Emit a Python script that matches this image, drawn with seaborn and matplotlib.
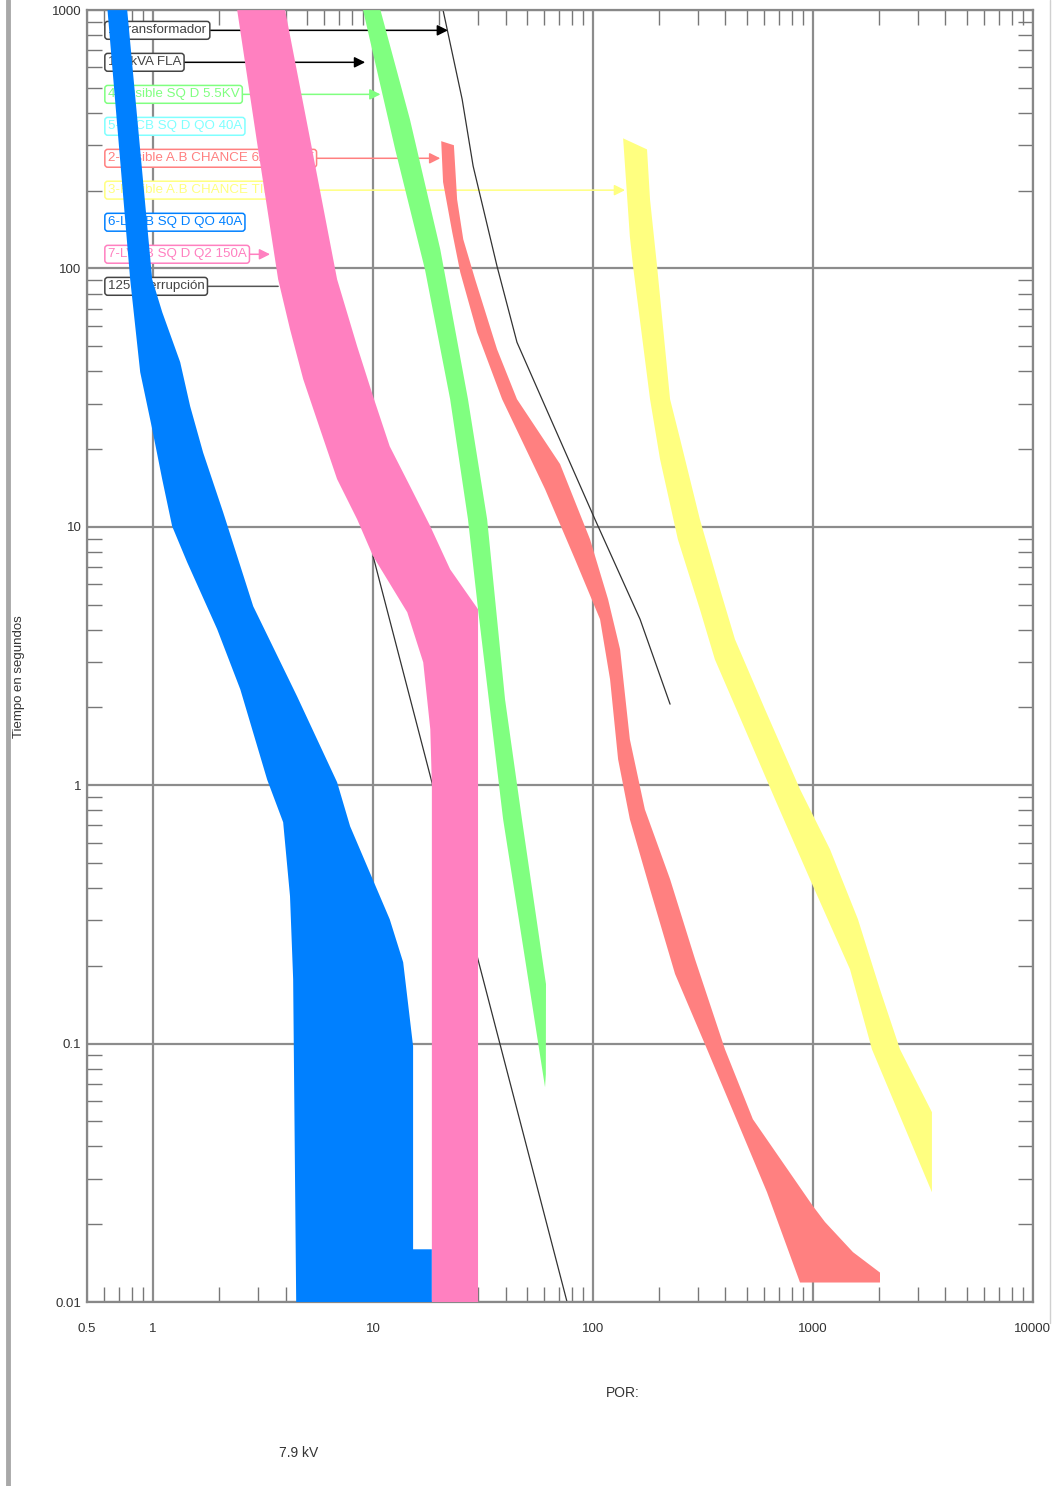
#!/usr/bin/env python3
"""Curvas de coordinacion de protecciones (tiempo-corriente), escala log-log."""

import matplotlib
matplotlib.use('Agg')
import matplotlib.pyplot as plt
from matplotlib.lines import Line2D
from matplotlib.ticker import FixedLocator, LogLocator, NullFormatter
import seaborn as sns
import pandas as pd

# ---- datos (corriente, tiempo en s) ----
X_TICKS = [0.5, 1, 10, 100, 1000, 10000]
X_LABELS = ['0.5', '1', '10', '100', '1000', '10000']
Y_TICKS = [0.01, 0.1, 1, 10, 100, 1000]
Y_LABELS = ['0.01', '0.1', '1', '10', '100', '1000']

# 6-LVCB SQ D QO 40A (azul)
blue_left_i = [0.62, 0.786, 0.873, 0.99, 1.099, 1.22, 1.427, 1.954, 2.49, 3.30, 3.90, 4.19, 4.33, 4.47]
blue_left_t = [1000, 90.8, 39.7, 23.9, 15.3, 10.05, 7.3, 4.02, 2.35, 1.05, 0.719, 0.372, 0.1775, 0.01]
blue_right_i = [18.5, 18.5, 15.2, 15.2, 13.7, 11.9, 7.86, 6.86, 4.51, 2.85, 2.08, 1.687, 1.473, 1.327, 1.10, 0.99, 0.762]
blue_right_t = [0.01, 0.016, 0.016, 0.0977, 0.2065, 0.303, 0.694, 1.027, 2.21, 4.93, 11.4, 19.4, 29.3, 43.4, 67.7, 90.8, 1000]

# 7-LVCB SQ D Q2 150A (rosa)
pink_left_i = [2.41, 3.0, 3.70, 4.19, 4.81, 5.74, 6.86, 8.46, 10.0, 14.3, 16.9, 18.2, 18.5, 18.5]
pink_left_t = [1000, 289, 90.8, 58.2, 37.3, 23.9, 15.3, 10.7, 7.7, 4.67, 2.99, 1.647, 1.0, 0.01]
pink_right_i = [30.0, 30.0, 22.4, 18.2, 14.7, 11.9, 10.0, 8.46, 6.86, 5.28, 3.98]
pink_right_t = [0.01, 4.80, 6.85, 10.05, 14.4, 20.5, 32.0, 50.0, 90.8, 289, 1000]

# 4-Fusible SQ D 5.5KV (verde)
green_left_i = [9.0, 12.6, 17.2, 22.4, 27.0, 30.0, 39.0, 49.1, 60.5]
green_left_t = [1000, 289, 99.3, 31.2, 10.7, 4.80, 0.739, 0.212, 0.0678]
green_right_i = [61.0, 61.1, 47.5, 39.8, 33.0, 27.0, 20.2, 14.7, 10.8]
green_right_t = [0.076, 0.170, 0.739, 2.15, 10.7, 31.2, 118.7, 378, 1000]

# 2-Fusible A.B CHANCE (rojo)
red_left_i = [20.4, 20.8, 22.9, 24.9, 29.7, 38.6, 60.5, 82.8, 107.6, 119.5, 130, 147, 181.6, 236, 330, 618, 873]
red_left_t = [311, 216, 138, 96.7, 56.6, 31.2, 14.0, 7.49, 4.39, 2.57, 1.26, 0.739, 0.396, 0.186, 0.0951, 0.0266, 0.0119]
red_right_i = [2017, 2017, 1520, 1134, 1000, 533, 398, 291, 224, 172, 147, 132.7, 117, 96.9, 70.8, 45.1, 36.6, 29.1, 25.7, 24.1, 23.3]
red_right_t = [0.0119, 0.0130, 0.0156, 0.0204, 0.0235, 0.051, 0.0951, 0.212, 0.433, 0.807, 1.507, 3.36, 5.25, 8.95, 17.5, 31.2, 48.7, 90.8, 129.7, 185, 300]

# 3-Fusible A.B CHANCE (amarillo)
yellow_left_i = [137, 147, 152, 181.6, 201.6, 243, 306, 358, 491, 672, 969, 1473, 1854, 3474]
yellow_left_t = [319, 133, 102, 31.2, 18.3, 8.95, 4.80, 3.07, 1.647, 0.883, 0.433, 0.194, 0.0951, 0.0266]
yellow_right_i = [3474, 2486, 2016, 1601, 1195, 873, 605, 442, 378, 306, 249, 224, 195.5, 181.6, 176]
yellow_right_t = [0.0543, 0.0951, 0.1624, 0.303, 0.565, 0.965, 1.968, 3.67, 5.73, 10.7, 21.8, 31.2, 102, 185, 289]

# curvas negras (dano del transformador / inrush)
dano_i = [20.8, 25.4, 28.5, 36.6, 45.1, 58.6, 102, 163.6, 224]
dano_t = [1000, 452, 249, 102, 51.8, 31.2, 10.7, 4.39, 2.06]
inrush_i = [10.0, 76.2]
inrush_t = [7.7, 0.01]

# etiquetas
labels = ['1-Transformador', '125kVA FLA', '4-Fusible SQ D 5.5KV', '5-LVCB SQ D QO 40A',
          '2-Fusible A.B CHANCE 6A TIPO T', '3-Fusible A.B CHANCE TIPO T',
          '6-LVCB SQ D QO 40A', '7-LVCB SQ D Q2 150A', '125 Interrupción']
label_t = [835, 628, 472, 355, 267, 201, 151, 113.5, 85.3]
label_tip = [21.9, 9.2, 10.8, None, 20.2, 139.8, None, 3.4, 3.7]
label_head = ['-|>', '-|>', '-|>', None, '-|>', '-|>', None, '-|>', '-']

BLUE, PINK, GREEN, RED, YELLOW, CYAN = '#0080ff', '#ff80c0', '#80ff80', '#ff8080', '#ffff80', '#80ffff'
label_color = ['#444444', '#444444', GREEN, CYAN, RED, YELLOW, BLUE, PINK, '#444444']
arrow_color = ['black', 'black', GREEN, CYAN, RED, YELLOW, BLUE, PINK, '#555555']

sns.set_theme(style='white')
plt.rcParams['font.family'] = ['Liberation Sans', 'DejaVu Sans']

fig = plt.figure(figsize=(10.54, 14.86), dpi=100)
ax = fig.add_axes([0.0825, 0.1238, 0.8975, 0.8694])
ax.set_xscale('log')
ax.set_yscale('log')
ax.set_xlim(0.5, 10000)
ax.set_ylim(0.01, 1000)

# bandas
bands = [
    (blue_left_i, blue_left_t, blue_right_i, blue_right_t, BLUE),
    (pink_left_i, pink_left_t, pink_right_i, pink_right_t, PINK),
    (green_left_i, green_left_t, green_right_i, green_right_t, GREEN),
    (red_left_i, red_left_t, red_right_i, red_right_t, RED),
    (yellow_left_i, yellow_left_t, yellow_right_i, yellow_right_t, YELLOW),
]
for li, lt, ri, rt, col in bands:
    ax.fill(li + ri, lt + rt, color=col, lw=0, zorder=3)

# curvas negras
for xi, yt in [(dano_i, dano_t), (inrush_i, inrush_t)]:
    df = pd.DataFrame({'I': xi, 't': yt})
    sns.lineplot(data=df, x='I', y='t', sort=False, estimator=None,
                 color='#333333', lw=0.9, ax=ax, zorder=2.5)

# etiquetas con flechas
for txt, t, tip, head, tcol, acol in zip(labels, label_t, label_tip, label_head,
                                         label_color, arrow_color):
    kw = dict(xy=(0.022, t), xycoords=('axes fraction', 'data'))
    if tip is not None:
        kw = dict(xy=(tip, t), xycoords='data',
                  arrowprops=dict(arrowstyle=head, color=acol, lw=1.1,
                                  mutation_scale=16, shrinkA=0, shrinkB=0))
    ax.annotate(txt, xytext=(0.022, t), textcoords=('axes fraction', 'data'),
                ha='left', va='center', fontsize=9.6, color=tcol, zorder=2,
                bbox=dict(boxstyle='round,pad=0.22', fc='white', ec=tcol, lw=1.1),
                **kw)

# rejilla y marcas
ax.grid(True, which='major', color='#8c8c8c', lw=1.6, zorder=1)
ax.xaxis.set_major_locator(FixedLocator(X_TICKS))
ax.set_xticklabels(X_LABELS)
ax.yaxis.set_major_locator(FixedLocator(Y_TICKS))
ax.set_yticklabels(Y_LABELS)
ax.xaxis.set_minor_locator(LogLocator(base=10, subs=range(2, 10)))
ax.yaxis.set_minor_locator(LogLocator(base=10, subs=range(2, 10)))
ax.xaxis.set_minor_formatter(NullFormatter())
ax.yaxis.set_minor_formatter(NullFormatter())
ax.tick_params(which='minor', direction='in', length=10.5, width=1.0, color='#777777',
               top=True, right=True, bottom=True, left=True)
ax.tick_params(which='major', direction='in', length=0, labelsize=9.5, labelcolor='#333333')
ax.tick_params(axis='x', which='major', pad=15)
ax.tick_params(axis='y', which='major', pad=4)
for s in ax.spines.values():
    s.set_color('#888888')
    s.set_linewidth(1.6)
    s.set_visible(True)
ax.set_xlabel('')
ax.set_ylabel('')

fig.text(0.018, 0.545, 'Tiempo en segundos', rotation=90, ha='center', va='center',
         fontsize=9.5, color='#333333')
fig.text(0.591, 0.0626, 'POR:', ha='center', va='center', fontsize=10, color='#333333')
fig.text(0.283, 0.0222, '7.9 kV', ha='center', va='center', fontsize=10, color='#333333')

# bordes de la pagina
fig.add_artist(Line2D([0.0075, 0.0075], [0, 1], transform=fig.transFigure,
                      color='#a8a8a8', lw=3.5))
fig.add_artist(Line2D([0.9965, 0.9965], [0.11, 1], transform=fig.transFigure,
                      color='#d0d0d0', lw=1))

fig.savefig('out.png', dpi=100)
